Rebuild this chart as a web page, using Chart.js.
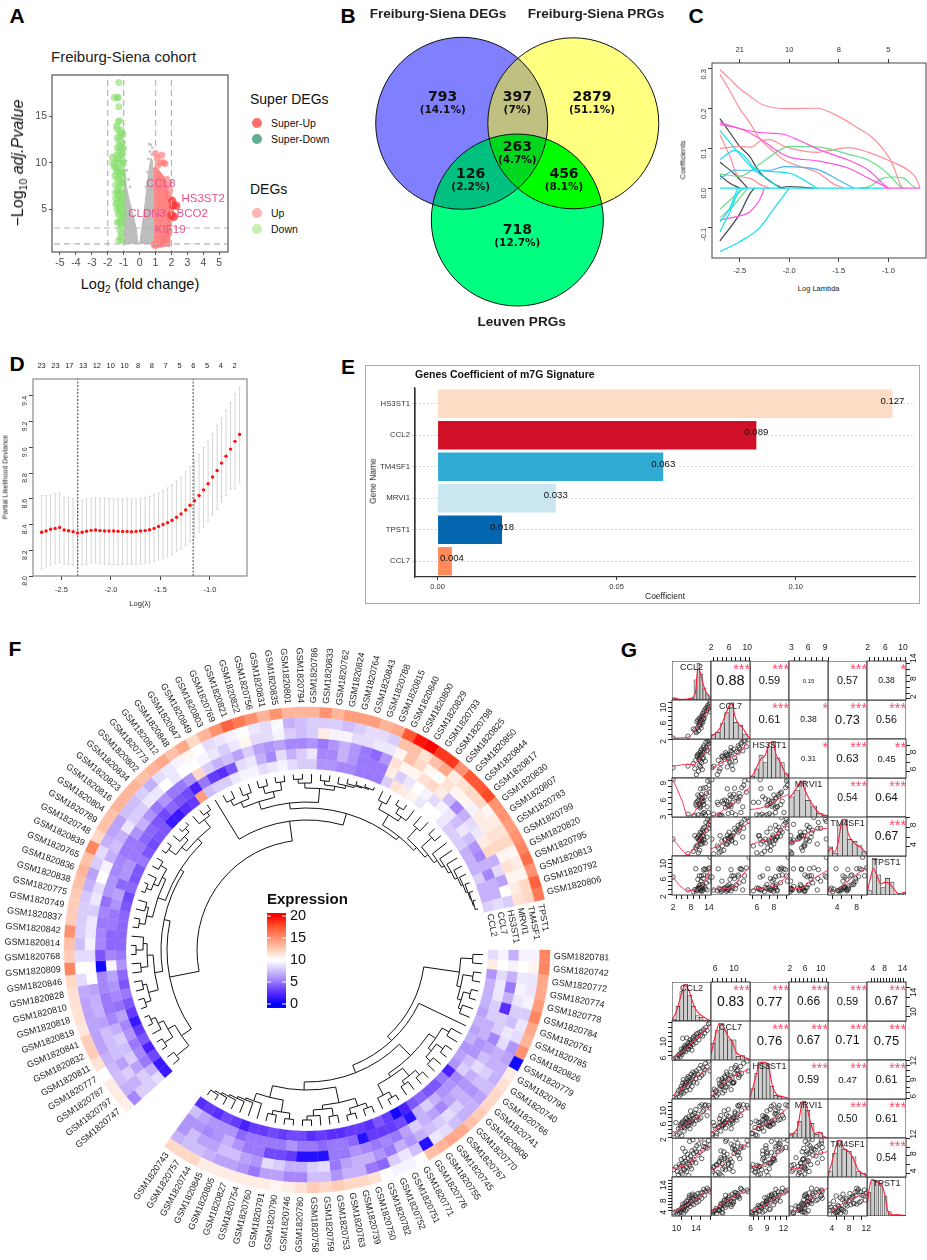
<!DOCTYPE html>
<html>
<head>
<meta charset="utf-8">
<script src="https://cdn.jsdelivr.net/npm/chart.js@4/dist/chart.umd.min.js"></script>
<style>
html, body { margin: 0; padding: 0; background: #fff; }
#page { position: relative; width: 927px; height: 1260px; overflow: hidden; font-family: "Liberation Sans", Arial, sans-serif; color: #111; }
canvas { position: absolute; display: block; }
.t { position: absolute; white-space: nowrap; transform: translate(-50%, -50%); line-height: 1; }
.l { position: absolute; white-space: nowrap; transform: translate(0, -50%); line-height: 1; }
.dot { position: absolute; border-radius: 50%; width: 10px; height: 10px; transform: translate(-50%, -50%); }
#frameE { position: absolute; left: 365px; top: 365px; width: 555px; height: 239px; border: 1.5px solid #aaa; box-sizing: border-box; }
</style>
</head>
<body>
<div id="page"><div id="frameE"></div></div>
<script>
// ---- A: volcano
var greyLeftX = [-1, -0.9, -0.8, -0.65, -0.5, -0.35, -0.2, -0.1];
var greyLeftY = [9.5, 8.5, 7.2, 6, 5, 4, 2.8, 1.3];
var greyRightX = [0, 0.1, 0.2, 0.3, 0.4, 0.5, 0.6, 0.72, 0.85];
var greyRightY = [1.3, 2.5, 3.8, 5, 6.5, 8, 9.4, 10.5, 10];
var redAreaX = [0.85, 1, 1.2, 1.4, 1.6, 1.75, 1.85, 1.95];
var redAreaY = [9.4, 9.5, 9.2, 8.8, 8.2, 7, 5.4, 3];
var greyDots = [[0.6,12],[0.7,11.9],[0.8,11.6],[0.65,11.2],[0.75,10.9],[0.55,10.4],[-0.95,13.2],[-0.9,11.5],[-0.85,10.2],[-0.8,9.2],[-0.7,8.2],[-0.6,7.4],[-0.95,12.2],[0.4,7.4],[0.5,9]];
var greenDots = [[-1.3,18.6],[-1.6,17],[-1.4,17],[-1.35,17],[-1.3,16],[-1.25,14.5],[-1.35,14.4],[-1.4,13.6],[-1.15,13.5],[-1.25,13.2],[-1.2,12.8],[-1.3,12.3],[-1.1,12.2],[-1.25,11.8],[-1.15,11.5],[-1.3,11.2],[-1.05,11],[-1.2,10.8],[-1.7,10.6],[-1.35,10.4],[-1.1,10.4],[-1.25,10],[-1.7,10],[-1.05,9.8],[-1.6,9.6],[-1.35,9.4],[-1.15,9.2],[-1.45,9],[-1.25,8.8],[-1.05,8.5],[-1.4,8.2],[-1.2,8],[-1.05,7.8],[-1.3,7.5],[-1.4,7],[-1.15,7],[-1.35,6.5],[-1.1,6.2],[-1.3,6],[-1.4,5.6],[-1.15,5.6],[-1.3,5.2],[-1.05,5],[-1.25,4.7],[-1.1,4.4],[-1.3,3.7],[-1.4,3.6],[-1.1,3.2],[-1.25,2.8],[-1.15,2.4],[-1.2,2],[-1.3,1.7],[-1.1,1.6],[-1.45,13.9],[-1.05,13],[-1.4,12.7],[-1.4,11.6],[-1.02,11.6],[-1.45,10.8],[-1.5,10.2],[-1.02,10],[-1.5,9.5],[-1.3,9],[-1.05,9],[-1.55,8.6],[-1.3,8.4],[-1.5,7.6],[-1.15,7.7],[-1.5,6.8],[-1.25,6.8],[-1.03,6.7],[-1.5,6.2],[-1.22,6.2],[-1.5,5.6],[-1.05,5.8],[-1.4,5],[-1.2,5.2],[-1.35,4.5],[-1.03,4.5],[-1.2,3.9],[-1.02,3.9],[-1.2,3.4]];
var pinkDots = [[1,11],[1.1,10.5],[1.4,10.8],[1.3,10],[1.5,10],[1.6,9.9],[1.15,9.7],[1.7,8.2],[1.8,7.6],[1.9,7],[1.75,6.6],[1.9,6.2],[1.95,5],[1.9,4],[1.8,3],[1.7,2.2],[1.5,1.6],[1.3,1.2],[1,1.1],[0.9,1.2],[1.6,1.8],[1.85,2.6]];
var superUpDots = [[2.05,5.9],[2.1,5.4],[2.3,5.4],[2,4.4],[2.15,4.2]];
var volcanoNames = ['CCL8', 'HS3ST2', 'CLDN3', 'BCO2', 'KIF19'];
var volcanoNameX = [1.33, 3.99, 0.47, 3.3, 1.92];
var volcanoNameY = [7.71, 6.14, 4.55, 4.55, 2.83];

// ---- B: venn
var vennCounts = ['793', '397', '2879', '263', '126', '456', '718'];
var vennShares = ['(14.1%)', '(7%)', '(51.1%)', '(4.7%)', '(2.2%)', '(8.1%)', '(12.7%)'];

// ---- C: coefficient paths
var pathPink = [
  [[-2.7,0.298],[-2.6,0.275],[-2.5,0.25],[-2.4,0.232],[-2.27,0.21],[-2,0.2],[-1.72,0.201],[-1.5,0.18],[-1.3,0.15],[-1.15,0.125],[-1,0.08],[-0.95,0.055],[-0.87,0.005],[-0.85,0]],
  [[-2.7,0.287],[-2.6,0.245],[-2.5,0.2],[-2.4,0.165],[-2.3,0.125],[-2.15,0.09],[-2.05,0.07],[-1.9,0.055],[-1.72,0.04],[-1.55,0.01],[-1.45,0]],
  [[-2.7,0.1],[-2.5,0.105],[-2.38,0.103],[-2.3,0.118],[-2.2,0.122],[-2.05,0.105],[-1.9,0.095],[-1.72,0.09],[-1.6,0.095],[-1.4,0.102],[-1.2,0.09],[-1,0.07],[-0.8,0.045],[-0.72,0.025],[-0.68,0]],
  [[-2.7,0.135],[-2.6,0.08],[-2.52,0.032],[-2.4,0.025],[-2.3,0.01],[-2.2,0]]
];
var pathMagenta = [
  [[-2.7,0.165],[-2.5,0.15],[-2.3,0.14],[-2.05,0.135],[-1.9,0.12],[-1.7,0.097],[-1.4,0.07],[-1.2,0.045],[-1.05,0.01],[-1,0]],
  [[-2.7,0.16],[-2.5,0.15],[-2.3,0.125],[-2.1,0.09],[-2,0.078],[-1.7,0.068],[-1.4,0.05],[-1.2,0.025],[-1,0]],
  [[-2.7,-0.08],[-2.5,-0.07],[-2.4,-0.06],[-2.3,-0.03],[-2.25,0]]
];
var pathGreen = [
  [[-2.7,0.035],[-2.5,0.03],[-2.3,0.06],[-2.1,0.095],[-2,0.105],[-1.7,0.103],[-1.4,0.085],[-1.2,0.07],[-1,0.035],[-0.9,0.008],[-0.87,0]],
  [[-1.3,0],[-1.2,0.003],[-1.05,0.025],[-0.95,0.028],[-0.85,0.025],[-0.75,0.005],[-0.72,0]],
  [[-2.7,-0.053],[-2.55,-0.02],[-2.45,0]],
  [[-2.7,-0.075],[-2.55,-0.04],[-2.42,0]]
];
var pathBlue = [
  [[-2.7,0.023],[-2.55,0.045],[-2.4,0.045],[-2.2,0.045],[-2.05,0.054],[-1.72,0.047],[-1.5,0.02],[-1.35,0]]
];
var pathCyan = [
  [[-2.7,0.072],[-2.55,0.095],[-2.45,0.08],[-2.35,0.05],[-2.2,0.042],[-2,0.038],[-1.85,0.02],[-1.72,0]],
  [[-2.7,0.145],[-2.6,0.115],[-2.5,0.085],[-2.35,0.045],[-2.2,0.02],[-2.1,0]],
  [[-2.7,-0.16],[-2.5,-0.135],[-2.3,-0.1],[-2.15,-0.05],[-2,0]],
  [[-2.7,-0.11],[-2.6,-0.06],[-2.5,-0.005],[-2.45,0]],
  [[-2.7,-0.085],[-2.6,-0.05],[-2.52,0]],
  [[-2.7,0],[-1.05,0]]
];
var pathBlack = [
  [[-2.7,0.175],[-2.6,0.14],[-2.5,0.105],[-2.4,0.08],[-2.3,0.04],[-2.1,0.003],[-2.05,0]],
  [[-2.7,0.065],[-2.55,0.035],[-2.42,0]],
  [[-2.7,0.032],[-2.6,0.012],[-2.5,0]],
  [[-2.7,-0.133],[-2.5,-0.065],[-2.4,-0.015],[-2.35,0]],
  [[-2.1,0],[-2,0.004],[-1.85,0.002],[-1.75,0]]
];
var pathEnd = [[-1.05,0],[-0.68,0]];
var coefTopX = [-2.5, -2, -1.5, -1];
var coefTopLabels = ['21', '10', '8', '5'];

// ---- D: cross validation
var cvLambda = [-2.7,-2.655,-2.609,-2.564,-2.518,-2.473,-2.428,-2.382,-2.337,-2.291,-2.246,-2.2,-2.155,-2.11,-2.064,-2.019,-1.973,-1.928,-1.882,-1.837,-1.792,-1.746,-1.701,-1.655,-1.61,-1.564,-1.519,-1.474,-1.428,-1.383,-1.337,-1.292,-1.246,-1.201,-1.156,-1.11,-1.065,-1.019,-0.974,-0.928,-0.883,-0.838,-0.792,-0.747,-0.701];
var cvMean = [8.34,8.35,8.363,8.37,8.378,8.358,8.352,8.345,8.335,8.34,8.348,8.355,8.358,8.353,8.35,8.35,8.35,8.348,8.347,8.347,8.345,8.347,8.35,8.353,8.36,8.37,8.385,8.4,8.415,8.433,8.457,8.483,8.514,8.55,8.585,8.626,8.67,8.717,8.77,8.82,8.878,8.932,8.987,9.047,9.1];
var cvUpper = [8.625,8.625,8.63,8.64,8.645,8.615,8.61,8.6,8.585,8.59,8.6,8.605,8.61,8.605,8.605,8.603,8.6,8.6,8.6,8.6,8.6,8.6,8.605,8.61,8.62,8.635,8.645,8.665,8.685,8.71,8.74,8.77,8.81,8.85,8.895,8.945,9,9.05,9.105,9.17,9.23,9.29,9.35,9.415,9.47];
var cvLower = [8.055,8.07,8.085,8.095,8.105,8.09,8.09,8.085,8.08,8.085,8.09,8.1,8.1,8.095,8.09,8.09,8.09,8.09,8.09,8.09,8.09,8.09,8.095,8.1,8.105,8.115,8.125,8.135,8.15,8.165,8.19,8.21,8.235,8.265,8.3,8.34,8.38,8.425,8.475,8.52,8.575,8.625,8.675,8.68,8.725];
var cvCutoffs = [-2.335, -1.17];
var cvTopX = [-2.7,-2.561,-2.42,-2.281,-2.142,-2.003,-1.864,-1.725,-1.586,-1.447,-1.308,-1.169,-1.03,-0.891,-0.752];
var cvTopLabels = ['23','23','17','13','12','10','10','8','8','7','5','6','5','4','2'];

// ---- E: signature bars
var sigGenes = ['HS3ST1', 'CCL2', 'TM4SF1', 'MRVI1', 'TPST1', 'CCL7'];
var sigCoef = [0.127, 0.089, 0.063, 0.033, 0.018, 0.004];
var sigColors = ['#fddcc5', '#cf1027', '#2eaad3', '#c9e6f1', '#0566b0', '#fc8a5a'];

// ---- F: circular heatmap
var sector1Ids = [747,797,787,777,811,832,841,819,818,810,828,846,809,768,814,842,837,749,775,838,836,765,839,748,789,804,816,823,834,802,773,812,848,847,849,803,769,821,822,756,831,835,801,794,786,833,762,824,764,843,788,815,840,800,829,793,798,825,850,844,817,830,807,783,799,820,795,813,792,806];
var sector2Ids = [781,742,772,774,778,784,761,785,826,779,796,740,766,741,808,770,767,745,755,776,771,751,752,782,750,739,763,753,759,758,780,746,790,791,760,754,827,805,845,744,757,743];
var heatGenes = ['TPST1', 'TM4SF1', 'MRVI1', 'HS3ST1', 'CCL7', 'CCL2'];
var tpst1S1 = [10.8,11,11,10,11.5,12.5,12.5,11.3,11.5,11.5,11.5,12,15.5,12.5,13,15,12.5,12.5,12.5,13,13.5,13,15.5,12,13,13,13.5,13.5,13.5,13,13.5,14,13,14,12,13.5,15,17,16,15,13.5,15,13.5,13.5,13.5,15,13.5,14.5,14.5,14.5,13.5,14,17.5,19.5,20,18.5,18.5,15,17.5,17.5,18,15,15,14.5,15,15.5,16.5,15,17,16];
var tm4sf1S1 = [5.5,7,7.5,7.3,7,6.5,6.5,6.5,6.5,6.5,6.8,8.5,10,8.5,7.5,8,8,8,7.8,7,6.5,8,8.5,7,6.5,6.5,7.5,7.5,8,7,8.5,9,9.5,10.5,10,8.5,9,9.5,10,9,8.5,9.8,7,7.5,8,8,8,7.5,8,8.5,8.5,8,13,13,11.5,13,14,11,11.5,12,12,10.5,11,11.5,12,10.5,11,10.5,12,12];
var mrvi1S1 = [8,7,8,6.5,7.5,7.5,7.5,6.5,7,7,6.5,10,10.2,8.5,9.5,9,9,8,9,8.5,10,9.5,7,7.5,7,9,8,8,9,9,10,9,10,10,9.5,9,8,9,10.5,8.5,8.5,9.5,8,7.5,8,11,9.5,9.5,8.5,8.5,9,9,10.5,13,12,10.5,10,11.5,10.5,10.5,9.5,11,11,11.5,12,10.5,11.5,10.5,11,11.5];
var hs3st1S1 = [8,8,6.5,8,7.5,8,7,5.5,5,5,5.5,5.5,0.5,4,5.5,5.5,5,5.5,4.8,6,6,5.5,5.5,5,5,6,7,6,5,6,5,5,6,12,8,7,7.5,6.5,8,6.5,6,6.5,5.5,5.5,6,5,6,7,6,5,4.5,6,11.5,10.5,10.5,11.5,12,11,7.5,5.5,7,8.5,9,11,12,7,8.5,6.5,10,8];
var ccl7S1 = [8.5,7,5,5.5,5,6,5.5,6.5,4.8,5.5,6,6.5,9.5,5.5,4.5,4.5,5,5,6,6.5,4.5,6,6,5,5,4.5,4.5,4,3.5,4.5,4,3.5,2,5,3,2.5,4,8.5,9,7,5.5,8.5,7,8,9,5.5,5.5,7,6,5,5,5,11,8,9,10,9.5,8.5,9.5,9,7.5,9,7.5,6,5.5,7,5.5,7,7,8.5];
var ccl2S1 = [1.5,1.5,3.5,2,4,3,1.5,3,4,5,4,4.5,6,5,4.5,4.5,4.5,4.5,4,3.5,4.5,4,4,5,4,3.5,4,4,1.5,1.5,2.5,3,14.5,7.5,8,8,9,9.5,9.5,8.5,9,9.5,8.5,8,8,6,6,5.5,5.5,5,5,5,8,11.5,11,10.5,9,10,10,9,8,8,8,7,7,7,8,7,7,8];
var tpst1S2 = [15.5,15.5,14,14,14.5,15.5,14,13.5,15,0.5,11,11.5,12,12,12.5,13,14,14,13.5,13,10,9.5,9.5,10,11.5,12,12,12.5,12,12.5,11.5,11,10.5,11,11,11,11,11,11,12,12,12];
var tm4sf1S2 = [9.5,10.5,9,9,9.5,8,9,8.5,6,6.5,7,7,7.5,6.5,7,7,7.5,8.5,9,1,7.5,9,8,4.5,5,7,7,6,7.5,7.5,5.5,5.5,6.5,6.5,5,6,6.5,6.5,7,7.5,7.5,7];
var mrvi1S2 = [9.5,10,9,9.5,9,8,7.5,9,8.5,7,7,8,7.5,6,7,8,8.5,8,7.5,7,6,7,5,6,7,7,6.5,5,8.5,8,7,7,8,8.5,6,6.5,7.5,7.5,6.5,6.5,7.5,6];
var hs3st1S2 = [7,9.5,7,5,7,2.5,8,8,5.5,6.5,7.5,8.5,7,6,7,6.5,5.5,6.5,7,8,6.5,5,5.5,5,5.5,6,5,5,1,1,1,3,3.5,3.5,5,5,6,7,6,5.5,6,6];
var ccl7S2 = [9.5,10,8.5,9,9,8,8,7,7,6,6,7.5,8,5.5,6,6,7,8,7,1,3.5,3,3,3,1,4.5,5,5,4.5,5,5,6,5,5,5,5,4.5,6,6,6,6.5,7.5];
var ccl2S2 = [8.5,11,6,7,7,7,6.5,7,6.5,7,6,6.5,6,2,5,4,4,4.5,4,2,0.5,3,4,2.5,3,3,2.5,2.5,3,2.5,3.5,3.5,3,3.5,3,3,2,3,3.5,2.5,3,2.5];
// dendrograms: [height, child, child...], a child is a leaf index or a nested node
var treeS1 = [66,
  [36,
    [24,[8,0,1],[16,[6,2,3],[10,4,[5,5,6]]]],
    [30,
      [22,[12,[6,7,8],[8,9,10]],[16,[9,11,12],[12,[5,13,14],15]]],
      [26,
        [18,[12,[6,16,17],[9,18,19]],[14,[9,[4,20,21],22],[7,23,24]]],
        [20,[14,[5,25,26],[9,27,[4,28,29]]],[10,30,[6,31,32]]]
      ]
    ]
  ],
  [46,33,
    [34,
      [28,[20,[14,[8,34,35],[9,36,37]],[14,[7,38,39],[6,40,41]]],[14,[9,[5,42,43],44],[10,[6,45,46],[7,47,[5,48,[4,49,[3,50,51]]]]]]],
      [30,[18,[10,52,53],[13,[6,54,55],56]],[26,[12,57,58],[22,[8,59,60],[18,61,[15,62,[12,63,[9,64,[7,65,[5,66,[4,67,[3,68,69]]]]]]]]]]]
    ]
  ]
];
var treeS2 = [58,
  [22,[10,0,1],[18,[8,2,3],[14,[7,4,5],[11,6,7]]]],
  [52,8,
    [44,
      [28,[20,[12,9,10],[16,[8,11,12],[10,13,14]]],[24,[14,[8,15,16],[10,17,18]],[12,[6,19,20],21]]],
      [36,
        [20,[12,[7,22,23],[6,24,25]],[16,[8,26,27],[10,28,[6,29,30]]]],
        [24,[12,[6,31,32],[8,33,34]],[16,35,[14,36,[12,37,[10,38,[8,39,[6,40,41]]]]]]]
      ]
    ]
  ]
];
var legendValues = [20, 15, 10, 5, 0];

// ---- G: pairs plots
var pairGenes = ['CCL2', 'CCL7', 'HS3ST1', 'MRVI1', 'TM4SF1', 'TPST1'];
var upCCL2 = [2,7,8.8,9.3,9.6,9.8,10,10.2,10.3,10.5,10.6,10.7,10.8,10.9,11,11.1,11.2,11.3,11.4,11.5,11.6,11.7,11.8,11.9,12,12.1,12.2,12.3,12.4,12.6,12.8,13,13.2,13.4,13.6,13.8,14,14.2,14.4,14.5];
var upCCL7 = [2.2,2.6,4.2,4,3.6,3.4,5.8,4.5,6.2,3.8,5,5.6,6.6,4.8,5.2,6,5.6,6.4,4.4,7,6.2,5.4,6.8,7.6,5.8,7.2,6.4,8,6.6,8.4,7.4,8.8,8.2,9,9.4,8.6,9.2,9.8,10.4,8];
var upHS3ST1 = [6.4,6.6,6.9,6.3,7.3,5.6,7.8,7.7,8,6,7.4,7.9,6.7,7.6,8.2,7.2,6.5,8.4,7.8,8.6,7,8,6.2,8.3,7.5,7.6,8.8,9,8.2,8.6,7.2,9.4,8.8,8.4,9.5,9.2,9.6,8.9,9.7,8.2];
var upMRVI1 = [9.2,3.1,2.8,2.9,4.8,5.2,4.5,5.4,6.5,3,5.6,4.8,6.2,5,4.2,4.6,7.6,4.4,2.9,6.6,5.8,5.4,5.2,6,3.2,7.7,4.8,5.4,3.4,6.2,3,7.8,6.8,4.4,9,3.4,8.2,7,9.2,5.8];
var upTM4SF1 = [5.6,2.6,3.1,6.3,3.8,4.2,5.8,4.2,6,2.8,5.4,6.4,5.2,3.3,5.6,7,4.6,6,5.2,6.8,5.6,4.6,6.3,7.4,5,7.8,6.2,7,5.4,8,4.8,9,7.4,6,9.6,8.6,7.8,10,9.2,8.4];
var upTPST1 = [5.9,3,2.6,3.1,7.8,2.8,3.2,2.9,5.4,3.4,3.5,3.9,6.2,3.2,3.4,4.2,3,2.8,5,6.2,3.6,2.7,3.4,4.2,3,5.6,7.6,6.4,3.8,7.8,3.3,7.6,4.6,3,6.2,7.8,5,8,10.4,6];
var upRanges = [[1.66,14.7],[2,10.6],[5.2,9.8],[2.6,9.5],[2.15,10.1],[1.85,10.7]];
var upTicks = [[2,4,6,8,10,12,14],[2,3,4,5,6,7,8,9,10],[6,7,8,9],[3,4,5,6,7,8,9],[4,6,8,10],[2,3,4,5,6,7,8,9,10]];
var upTickLabels = [[2,8,14],[2,6,10],[6,8],[3,6,9],[4,8],[2,6,10]];
var upCorr = ['0.88','0.59','0.15','0.57','0.38','0.61','0.38','0.73','0.56','0.31','0.63','0.45','0.54','0.64','0.67'];
var upStars = ['***','***','','***','*','***','*','***','***','*','***','**','***','***','***'];
var upHistX = [
  [2.5,3.5,4.5,5.5,6.5,7.5,8.5,9.5,10.5,11.5,12.5,13.5,14.5],
  [2.5,3.5,4.5,5.5,6.5,7.5,8.5,9.5,10.5],
  [5.5,6,6.5,7,7.5,8,8.5,9,9.5],
  [3,4,5,6,7,8,9],
  [2.6,3.6,4.6,5.6,6.6,7.6,8.6,9.6],
  [2.5,3.5,4.5,5.5,6.5,7.5,8.5,9.5,10.5]
];
var upHistY = [
  [0.04,0.02,0,0,0,0.04,0.05,0.55,1,0.7,0.33,0.15,0.05],
  [0.13,0.18,0.42,0.72,0.98,0.45,0.38,0.13,0.02],
  [0.05,0.25,0.62,0.42,0.85,1,0.55,0.42,0.12],
  [0.55,0.72,0.98,0.45,0.3,0.1,0.05],
  [0.25,0.08,0.85,1,0.45,0.4,0.3,0.12],
  [0.12,1,0.55,0.2,0.45,0.35,0.03,0.03,0.08]
];
var upDensity = [
  [[1.7,0.05],[2.5,0.06],[4,0.02],[6,0.02],[8,0.05],[9.5,0.2],[10.3,0.85],[11,0.78],[12,0.45],[13,0.22],[14,0.12],[14.7,0.06]],
  [[2,0.06],[3,0.16],[4,0.3],[5,0.6],[6,0.9],[6.6,0.98],[7.3,0.6],[8,0.42],[9,0.3],[10,0.1],[10.6,0.03]],
  [[5.2,0.02],[5.6,0.1],[6,0.3],[6.5,0.52],[7,0.62],[7.5,0.95],[7.9,0.98],[8.3,0.62],[8.8,0.42],[9.3,0.15],[9.8,0.02]],
  [[2.6,0.5],[3,0.58],[4,0.8],[4.7,0.98],[5.5,0.7],[6.3,0.45],[7,0.28],[8,0.1],[9,0.05],[9.5,0.02]],
  [[2.2,0.1],[2.8,0.22],[3.4,0.1],[4.2,0.35],[4.9,0.9],[5.6,1],[6.3,0.6],[7,0.42],[8,0.3],[9,0.22],[10,0.05]],
  [[1.9,0.05],[2.5,0.4],[3.3,0.72],[4,0.55],[5,0.3],[6,0.35],[7,0.3],[8,0.15],[9,0.04],[10,0.05],[10.7,0.06]]
];
var upLoess = [
  [[2,2.2],[7,2.4],[9,3.6],[10,4.6],[12,6.5],[14.5,9.6]],
  [[2,6.6],[7,6.8],[9,6.8],[10,7.1],[12,7.9],[14.5,9.3]],
  [[2,6.3],[4,6.9],[6,7.4],[8,8.1],[10,9.3]],
  [[2,9.2],[5,5.5],[7,2.8],[9,3.3],[11,5.3],[14.5,7.6]],
  [[2,2.7],[4,3.4],[6,4.6],[8,5.6],[10.4,7.8]],
  [[5.2,3.9],[6.5,4.2],[7.5,4.8],[8.5,5.8],[9.8,6.6]],
  [[2,5.6],[5,3.4],[7,2.4],[9,3.6],[11,5.6],[13,7.4],[14.5,9.6]],
  [[2,3.6],[4,4.4],[6,5.6],[8,7.4],[10.4,9]],
  [[5.2,4.4],[6.5,5.2],[7.5,5.6],[8.5,6.8],[9.8,9]],
  [[2.6,4.8],[4,5.2],[5,5.8],[6,6.8],[7,7.4],[9.4,7.8]],
  [[2,5.9],[5,3.5],[7,2.9],[9,3],[11,3.4],[13,5.4],[14.5,8]],
  [[2,3.1],[4,3.2],[6,3.4],[7,3.6],[8,5.2],[10.4,8.2]],
  [[5.2,3],[6.5,3.4],[7.5,3.6],[8.5,4.2],[9.8,6.8]],
  [[2.6,3.2],[4,3.3],[5,3.4],[6,4.6],[7.5,6],[9.4,7.4]],
  [[2.2,3],[3.5,2.6],[5,3.8],[6.5,5.2],[8,6.6],[10,8]]
];
var lowCCL2 = [9.4,9.9,10.2,10.4,10.6,10.8,10.9,11,11.1,11.2,11.3,11.4,11.5,11.6,11.7,11.8,11.9,12,12.1,12.2,12.3,12.4,12.5,12.6,12.7,12.8,12.9,13,13.1,13.2,13.3,13.4,13.5,13.6,13.8,14,14.1,14.2,14.4,14.6,14.8,15,15.2,15.4,15.6,15.8,16,16.3,16.6,16.9];
var lowCCL7 = [5.3,5.6,5.4,6.1,6.3,5.8,6.6,7.4,6.2,7,9.7,6.8,7.6,7.2,8.2,7.8,6.9,8,9.8,7.5,8.5,8,7.4,8.8,8.2,9.4,7.9,8.6,9,7.2,9.6,8.4,10,9.2,10.2,8.8,10.6,9.9,10.8,9.4,11,10.4,11.2,10.2,11.6,10.8,12,11.4,12.8,13];
var lowHS3ST1 = [6.2,6,6.9,7.4,6.4,7.7,6.8,8.2,7.2,7.8,8.8,9.4,7,8.4,8,9,8.6,7.4,8.9,9.6,8.2,10,9.2,8.6,9.8,7.6,9,10.4,9.4,8.2,9.9,10.8,9,10.2,10.6,9.6,11,8.8,10.4,11.4,9.8,12,10.2,11.6,10.6,11.2,12.4,11.8,12.8,11];
var lowMRVI1 = [2.9,5.8,2.6,4.2,3,5,4.5,5.4,2.4,5.9,5.6,4.8,6.2,3.6,4.4,5.2,6.8,5.8,7,4.9,6.4,5.6,5,7.4,6,4.2,8.8,6.5,5.8,7.6,6.2,7.8,6.9,5.4,8.2,9.2,6.4,7.2,8,6.6,10,7,10.4,8.6,9,10.2,10.4,7.6,10.2,9.6];
var lowTM4SF1 = [4.8,5.4,4.4,3.6,6,5.5,4.2,7.2,5.8,3.8,9.8,6.4,5,7.6,4.8,9,6.8,5.4,4.4,6.2,8.4,7.4,3.4,6,11.4,5.6,8,7,5,9.2,6.6,11.8,8.6,7.2,9.6,6.4,9,10.4,8.2,10.8,8.8,12,7.4,9.4,10.2,11,10,9.8,11.6,10.6];
var lowTPST1 = [3.2,3.4,2.6,3.9,2.9,3.6,4.1,3.3,4.6,5,6,4.2,3,5.4,4.9,6.4,3.8,5.6,7,4.4,5.8,7.4,6,8.2,9,5.2,7.2,6.8,8.8,6.2,9.4,7.4,8,5.8,9,7.6,8.4,6.6,9.6,7,8.6,9.8,8,10,11,9,10.4,11.4,10.8,10.2];
var lowRanges = [[9.1,17.1],[5.1,13.4],[5.9,13],[1.8,11.9],[3.1,12.2],[2,15.2]];
var lowTicks = [[10,12,14,16],[6,7,8,9,10,11,12,13],[6,7,8,9,10,11,12,13],[2,3,4,5,6,7,8,9,10,11],[4,6,8,10,12],[4,5,6,7,8,9,10,11,12,13,14]];
var lowTickLabels = [[10,14],[6,10],[6,9,12],[2,6,10],[4,8,12],[4,8,14]];
var lowCorr = ['0.83','0.77','0.66','0.59','0.67','0.76','0.67','0.71','0.75','0.59','0.47','0.61','0.50','0.61','0.54'];
var lowStars = ['***','***','***','***','***','***','***','***','***','***','***','***','***','***','***'];
var lowHistX = [
  [9.5,10.3,11.1,11.9,12.7,13.5,14.3,15.1,15.9],
  [5.5,6.4,7.3,8.2,9.1,10,10.9,11.8,12.7],
  [6.4,7.1,7.8,8.5,9.2,9.9,10.6,11.3,12],
  [2.3,3.4,4.5,5.6,6.7,7.8,8.9,10,11.1],
  [3.6,4.7,5.8,6.9,8,9.1,10.2,11.3],
  [2.7,4.1,5.5,6.9,8.3,9.7,11.1,12.5,13.9]
];
var lowHistY = [
  [0.05,0.4,0.8,1,0.7,0.4,0.15,0.1,0.02],
  [0.45,0.8,1,0.8,0.55,0.55,0.1,0.12,0.03],
  [0.3,0.7,1,1,0.95,0.35,0.1,0.07,0.03],
  [0.12,0.12,0.45,1,0.75,0.4,0.1,0.15,0.02],
  [0.15,0.65,1,0.75,0.7,0.55,0.15,0.1],
  [0.65,0.98,0.95,0.9,0.55,0.12,0.02,0.03,0.02]
];
var lowDensity = [
  [[9.1,0.03],[10,0.25],[11,0.72],[11.8,1],[12.6,0.82],[13.5,0.45],[14.5,0.22],[15.5,0.12],[16.3,0.05],[17.1,0.01]],
  [[5.1,0.15],[6,0.65],[6.9,1],[7.8,0.9],[8.7,0.65],[9.6,0.5],[10.5,0.2],[11.5,0.12],[12.5,0.06],[13.4,0.01]],
  [[5.9,0.05],[6.5,0.35],[7.2,0.75],[7.9,1],[8.6,1],[9.3,0.85],[10,0.35],[10.8,0.12],[11.8,0.07],[13,0.01]],
  [[1.8,0.05],[3,0.14],[4,0.28],[5,0.85],[5.6,1],[6.5,0.8],[7.5,0.38],[8.5,0.12],[9.7,0.16],[10.8,0.04],[11.9,0]],
  [[3.1,0.03],[4,0.4],[5,0.85],[5.8,1],[6.8,0.78],[8,0.68],[9,0.5],[10.2,0.18],[11.2,0.1],[12.2,0.03]],
  [[2,0.25],[3,0.85],[3.8,1],[5,0.93],[6.5,0.88],[8,0.6],[9,0.15],[10.5,0.03],[12.5,0.03],[14.5,0.02],[15.2,0]]
];
var lowLoess = [
  [[9.3,5.4],[11,6.7],[12.5,8],[14,9.6],[15.5,11],[17,12.6]],
  [[9.3,6.5],[11,7.6],[12.5,8.8],[14,9.9],[15.5,10.8],[17,11.8]],
  [[5.2,6.3],[6.5,7.8],[8,8.9],[9.5,9.8],[11,10.6],[13,11.2]],
  [[9.3,2.8],[11,4.6],[12.5,5.8],[14,6.9],[15.5,8.3],[17,10]],
  [[5.2,2.9],[6.5,4.6],[8,5.5],[9.5,6.5],[11,8],[13,9.6]],
  [[6,3.6],[7.5,4.8],[9,5.6],[10.5,7],[12.8,9.6]],
  [[9.3,5],[11,5.5],[12.5,6],[14,7.8],[15.5,9.4],[17,10.4]],
  [[5.2,4.9],[6.5,5.4],[8,6.3],[9.5,8],[11,9.6],[13,11]],
  [[6,5.4],[7.5,5.6],[9,6.3],[10.5,8.2],[12,9.6],[13,9.4]],
  [[2,5],[4,5],[6,6],[7.5,7.4],[9,8.4],[11.8,9]],
  [[9.3,3.4],[11,4.8],[12.5,6],[14,7.8],[15.5,9.4],[17,11]],
  [[5.2,3.6],[6.5,5],[8,6.8],[9.5,8],[11,9.4],[13,10.6]],
  [[6,3.6],[7.5,4.8],[9,6],[10.5,8],[12,9.6],[13,10.6]],
  [[2,3.4],[4,4],[6,6.4],[7.5,8],[9,9.6],[11.8,11.4]],
  [[3.2,3],[5,4.8],[7,6.6],[9,8.2],[10.5,8.8],[12.2,9.2]]
];

// ---- page helpers
Chart.defaults.animation = false;
Chart.defaults.responsive = false;
Chart.defaults.maintainAspectRatio = false;
Chart.defaults.layout.autoPadding = false;
Chart.defaults.font.family = '"Liberation Sans", Arial, sans-serif';
Chart.defaults.plugins.legend.display = false;
Chart.defaults.plugins.tooltip.enabled = false;

var page = document.getElementById('page');

function text(str, x, y, css, cls) {
    var d = document.createElement('div');
    d.className = cls || 't';
    d.innerHTML = str;
    d.style.left = x + 'px';
    d.style.top = y + 'px';
    d.style.cssText += css || '';
    page.appendChild(d);
    return d;
}

function makeChart(left, top, width, height, config) {
    var c = document.createElement('canvas');
    c.width = width;
    c.height = height;
    c.style.left = left + 'px';
    c.style.top = top + 'px';
    c.style.width = width + 'px';
    c.style.height = height + 'px';
    page.appendChild(c);
    return new Chart(c, config);
}

// fixed axis thickness, no extra room for the labels at the ends
function fit(size) {
    return function (s) {
        if (s.isHorizontal()) s.height = size; else s.width = size;
        s.paddingLeft = s.paddingRight = s.paddingTop = s.paddingBottom = 0;
    };
}

function frame(color, width) {
    return {
        id: 'frame',
        afterDatasetsDraw: function (chart) {
            var a = chart.chartArea, ctx = chart.ctx;
            ctx.save();
            ctx.strokeStyle = color;
            ctx.lineWidth = width;
            ctx.strokeRect(a.left, a.top, a.right - a.left, a.bottom - a.top);
            ctx.restore();
        }
    };
}

function pairsOf(xs, ys) {
    return xs.map(function (x, i) { return { x: x, y: ys[i] }; });
}
function toPoints(list) {
    return list.map(function (p) { return { x: p[0], y: p[1] }; });
}

// panel letters
[['A',17,15],['B',348,15],['C',696,15],['D',17,363],['E',348,366],['F',15,648],['G',629,649]].forEach(function (p) {
    text(p[0], p[1], p[2], 'font-weight:bold;font-size:21px;color:#000;');
});

// ---- A
function dashLine(x1, y1, x2, y2) {
    return { type: 'scatter', showLine: true, data: [{ x: x1, y: y1 }, { x: x2, y: y2 }], borderColor: '#b4b4b4', borderWidth: 1.2, borderDash: [6, 4], pointRadius: 0 };
}
// first dataset is painted last
makeChart(20, 65, 220, 205, {
    type: 'scatter',
    data: {
        datasets: [
            dashLine(-2, 0, -2, 20), dashLine(-1, 0, -1, 20), dashLine(1, 0, 1, 20), dashLine(2, 0, 2, 20),
            dashLine(-6, 3, 6, 3), dashLine(-6, 1.3, 6, 1.3),
            { data: toPoints(superUpDots), pointRadius: 4.2, backgroundColor: 'rgba(255,50,50,0.75)', borderWidth: 0 },
            { data: toPoints(greenDots), pointRadius: 3.5, backgroundColor: 'rgba(135,222,110,0.62)', borderWidth: 0 },
            { data: toPoints(pinkDots), pointRadius: 3.4, backgroundColor: 'rgba(255,120,120,0.65)', borderWidth: 0 },
            { showLine: true, data: pairsOf(redAreaX, redAreaY), borderColor: '#ff8585', backgroundColor: '#ff8585', fill: { value: 1 }, pointRadius: 0, borderWidth: 1 },
            { data: toPoints(greyDots), pointRadius: 1.4, backgroundColor: '#c4c4c4', borderWidth: 0 },
            { showLine: true, data: pairsOf(greyLeftX, greyLeftY), borderColor: '#bdbdbd', backgroundColor: '#bdbdbd', fill: { value: 1.3 }, pointRadius: 0, borderWidth: 1 },
            { showLine: true, data: pairsOf(greyRightX, greyRightY), borderColor: '#bdbdbd', backgroundColor: '#bdbdbd', fill: { value: 1.3 }, pointRadius: 0, borderWidth: 1 }
        ]
    },
    options: {
        layout: { padding: { right: 12, top: 10 } },
        scales: {
            x: { min: -5.5, max: 5.55, afterBuildTicks: function (s) { s.ticks = [-5,-4,-3,-2,-1,0,1,2,3,4,5].map(function (v) { return { value: v }; }); }, afterFit: fit(18), grid: { drawOnChartArea: false, tickLength: 3, color: '#555' }, border: { display: false }, ticks: { font: { size: 10.5 }, color: '#4d4d4d', padding: 2, autoSkip: false, maxRotation: 0 } },
            y: { min: 0.43, max: 19.4, afterBuildTicks: function (s) { s.ticks = [5, 10, 15].map(function (v) { return { value: v }; }); }, afterFit: fit(32), grid: { drawOnChartArea: false, tickLength: 3, color: '#555' }, border: { display: false }, ticks: { font: { size: 10.5 }, color: '#4d4d4d', padding: 2 } }
        }
    },
    plugins: [frame('#555', 1.2), {
        id: 'names',
        afterDatasetsDraw: function (chart) {
            var ctx = chart.ctx;
            ctx.save();
            ctx.font = '11.5px "Liberation Sans"';
            ctx.fillStyle = '#e8508a';
            ctx.textAlign = 'center';
            ctx.textBaseline = 'middle';
            volcanoNames.forEach(function (n, i) {
                ctx.fillText(n, chart.scales.x.getPixelForValue(volcanoNameX[i]), chart.scales.y.getPixelForValue(volcanoNameY[i]));
            });
            ctx.restore();
        }
    }]
});
text('Freiburg-Siena cohort', 51, 56, 'font-size:15px;color:#222;', 'l');
text('Log<sub style="font-size:10px;line-height:0">2</sub> (fold change)', 140, 284, 'font-size:14.5px;color:#111;');
text('&minus;Log<sub style="font-size:10.5px;line-height:0">10</sub> <i>adj.Pvalue</i>', 18, 163, 'font-size:16px;color:#111;transform:translate(-50%,-50%) rotate(-90deg);');
text('Super DEGs', 250, 99, 'font-size:14px;color:#111;', 'l');
text('DEGs', 250, 189, 'font-size:14px;color:#111;', 'l');
text('Super-Up', 271, 123, 'font-size:10.5px;color:#111;', 'l');
text('Super-Down', 271, 139, 'font-size:10.5px;color:#111;', 'l');
text('Up', 271, 213, 'font-size:10.5px;color:#111;', 'l');
text('Down', 271, 229, 'font-size:10.5px;color:#111;', 'l');
[[257,123,'#ff6f6f'],[257,139,'#62ae8e'],[257,213,'#ffb4b4'],[257,229,'#c8eeb2']].forEach(function (p) {
    text('', p[0], p[1], 'background:' + p[2] + ';', 'dot');
});

// ---- B
var vennDatasets = [
    { data: [{ x: 461.7, y: 123.3, r: 86 }], backgroundColor: '#8080ff' },
    { data: [{ x: 573.3, y: 123.3, r: 85.5 }], backgroundColor: '#ffff80' },
    { data: [{ x: 517.3, y: 220, r: 86 }], backgroundColor: '#00ff80' }
];
var vennTextX = [442.7, 517.3, 592, 517.3, 470.7, 564, 517.3];
var vennTextY = [97, 97, 97, 147.7, 174, 174, 230.7];
makeChart(340, 0, 330, 340, {
    type: 'bubble',
    data: { datasets: vennDatasets.map(function (d) { return Object.assign({ borderWidth: 0, clip: false }, d); }) },
    options: {
        scales: {
            x: { display: false, min: 340, max: 670 },
            y: { display: false, min: 0, max: 340, reverse: true }
        }
    },
    plugins: [{
        id: 'overlaps',
        afterDatasetsDraw: function (chart) {
            var ctx = chart.ctx;
            var circles = [0, 1, 2].map(function (i) {
                var e = chart.getDatasetMeta(i).data[0];
                return { x: e.x, y: e.y, r: e.options.radius };
            });
            function clipped(list, color) {
                ctx.save();
                list.forEach(function (i) {
                    ctx.beginPath();
                    ctx.arc(circles[i].x, circles[i].y, circles[i].r, 0, Math.PI * 2);
                    ctx.clip();
                });
                ctx.fillStyle = color;
                ctx.fillRect(0, 0, 330, 340);
                ctx.restore();
            }
            clipped([0, 1], '#c0c080');
            clipped([0, 2], '#00c080');
            clipped([1, 2], '#00ff00');
            clipped([0, 1, 2], '#00d820');
            ctx.save();
            ctx.strokeStyle = '#111';
            ctx.lineWidth = 1;
            circles.forEach(function (c) {
                ctx.beginPath();
                ctx.arc(c.x, c.y, c.r, 0, Math.PI * 2);
                ctx.stroke();
            });
            ctx.fillStyle = '#111';
            ctx.textAlign = 'center';
            ctx.textBaseline = 'middle';
            vennCounts.forEach(function (n, i) {
                var x = chart.scales.x.getPixelForValue(vennTextX[i]);
                var y = chart.scales.y.getPixelForValue(vennTextY[i]);
                ctx.font = 'bold 14px "DejaVu Sans"';
                ctx.fillText(n, x, y);
                ctx.font = 'bold 10.5px "DejaVu Sans"';
                ctx.fillText(vennShares[i], x, y + 13);
            });
            ctx.restore();
        }
    }]
});
text('Freiburg-Siena DEGs', 438, 14, 'font-weight:bold;font-size:13.6px;color:#222;');
text('Freiburg-Siena PRGs', 596, 14, 'font-weight:bold;font-size:13.6px;color:#222;');
text('Leuven PRGs', 521.7, 321.7, 'font-weight:bold;font-size:13.6px;color:#222;');

// ---- C
function pathSets(list, color) {
    return list.map(function (p) {
        return { data: toPoints(p), showLine: true, borderColor: color, borderWidth: 1.2, pointRadius: 0, cubicInterpolationMode: 'monotone' };
    });
}
makeChart(680, 30, 247, 250, {
    type: 'scatter',
    data: {
        datasets: [].concat(
            pathSets([pathEnd], '#ff55dd'), pathSets(pathCyan, '#12dff0'), pathSets(pathMagenta, '#ff55dd'),
            pathSets(pathBlue, '#45b4ee'), pathSets(pathGreen, '#66e08a'), pathSets(pathPink, '#ff8f98'),
            pathSets(pathBlack, '#444')
        )
    },
    options: {
        layout: { padding: { right: 1 } },
        scales: {
            x: { type: 'linear', position: 'bottom', min: -2.78, max: -0.62, afterBuildTicks: function (s) { s.ticks = coefTopX.map(function (v) { return { value: v }; }); }, afterFit: fit(22), grid: { drawOnChartArea: false, tickLength: 4, color: '#444' }, border: { display: false }, ticks: { font: { size: 7.5 }, color: '#333', padding: 4, callback: function (v) { return v.toFixed(1); }, maxRotation: 0 } },
            top: { type: 'linear', position: 'top', min: -2.78, max: -0.62, afterBuildTicks: function (s) { s.ticks = coefTopX.map(function (v) { return { value: v }; }); }, afterFit: fit(33), grid: { drawOnChartArea: false, tickLength: 4, color: '#444' }, border: { display: false }, ticks: { font: { size: 7.5 }, color: '#333', padding: 5, maxRotation: 0, callback: function (v) { return coefTopLabels[coefTopX.indexOf(v)]; } } },
            y: { min: -0.176, max: 0.315, afterBuildTicks: function (s) { s.ticks = [-0.1, 0, 0.1, 0.2, 0.3].map(function (v) { return { value: v }; }); }, afterFit: fit(32), grid: { drawOnChartArea: false, tickLength: 4, color: '#444' }, border: { display: false }, ticks: { font: { size: 7.5 }, color: '#333', padding: 4, minRotation: 90, maxRotation: 90, callback: function (v) { return v.toFixed(1); } } }
        }
    },
    plugins: [frame('#444', 1)]
});
text('Log Lambda', 818.7, 289, 'font-size:7.5px;color:#222;');
text('Coefficients', 683, 160, 'font-size:7.5px;color:#222;transform:translate(-50%,-50%) rotate(-90deg);');

// ---- D
var errorSegments = [];
cvLambda.forEach(function (l, i) {
    var cap = 0.012;
    errorSegments.push({ x: l, y: cvLower[i] }, { x: l, y: cvUpper[i] }, { x: l, y: null });
    errorSegments.push({ x: l - cap, y: cvUpper[i] }, { x: l + cap, y: cvUpper[i] }, { x: l, y: null });
    errorSegments.push({ x: l - cap, y: cvLower[i] }, { x: l + cap, y: cvLower[i] }, { x: l, y: null });
});
makeChart(0, 345, 250, 260, {
    type: 'scatter',
    data: {
        datasets: [
            { data: pairsOf(cvLambda, cvMean), pointRadius: 1.7, backgroundColor: '#ff1010', borderWidth: 0 },
            { data: [{ x: cvCutoffs[0], y: 8 }, { x: cvCutoffs[0], y: 9.6 }], showLine: true, borderColor: '#444', borderWidth: 1, borderDash: [2, 1.5], pointRadius: 0 },
            { data: [{ x: cvCutoffs[1], y: 8 }, { x: cvCutoffs[1], y: 9.6 }], showLine: true, borderColor: '#444', borderWidth: 1, borderDash: [2, 1.5], pointRadius: 0 },
            { data: errorSegments, showLine: true, spanGaps: false, borderColor: '#d6d6d6', borderWidth: 1, pointRadius: 0 }
        ]
    },
    options: {
        layout: { padding: { right: 3, top: 34 } },
        scales: {
            x: { min: -2.787, max: -0.626, afterBuildTicks: function (s) { s.ticks = [-2.5, -2, -1.5, -1].map(function (v) { return { value: v }; }); }, afterFit: fit(29), grid: { drawOnChartArea: false, tickLength: 4, color: '#444' }, border: { display: false }, ticks: { font: { size: 7.5 }, color: '#333', padding: 5, maxRotation: 0, callback: function (v) { return v.toFixed(1); } } },
            y: { min: 8, max: 9.532, afterBuildTicks: function (s) { s.ticks = [8, 8.2, 8.4, 8.6, 8.8, 9, 9.2, 9.4].map(function (v) { return { value: v }; }); }, afterFit: fit(33), grid: { drawOnChartArea: false, tickLength: 4, color: '#444' }, border: { display: false }, ticks: { font: { size: 7 }, color: '#333', padding: 4, minRotation: 90, maxRotation: 90, callback: function (v) { return v.toFixed(1); } } }
        }
    },
    plugins: [frame('#777', 1), {
        id: 'topCounts',
        afterDatasetsDraw: function (chart) {
            var ctx = chart.ctx;
            ctx.save();
            ctx.font = '7.5px "Liberation Sans"';
            ctx.fillStyle = '#222';
            ctx.textAlign = 'center';
            ctx.textBaseline = 'middle';
            cvTopLabels.forEach(function (n, i) {
                ctx.fillText(n, chart.scales.x.getPixelForValue(cvTopX[i]), 21);
            });
            ctx.restore();
        }
    }]
});
text('Log(&lambda;)', 140, 604, 'font-size:7.5px;color:#222;');
text('Partial Likelihood Deviance', 5, 477, 'font-size:7px;color:#222;transform:translate(-50%,-50%) rotate(-90deg);');

// ---- E
makeChart(366, 380, 552, 220, {
    type: 'bar',
    data: {
        labels: sigGenes,
        datasets: [{ data: sigCoef, backgroundColor: sigColors, categoryPercentage: 1, barPercentage: 0.9 }]
    },
    options: {
        indexAxis: 'y',
        layout: { padding: { right: 3, top: 8 } },
        scales: {
            x: { min: -0.0063, max: 0.1333, afterBuildTicks: function (s) { s.ticks = [0, 0.05, 0.1].map(function (v) { return { value: v }; }); }, afterFit: fit(23), grid: { drawOnChartArea: false, tickLength: 3, color: '#333' }, border: { color: '#333', width: 1.2 }, ticks: { font: { size: 7.5 }, color: '#333', padding: 2, maxRotation: 0, callback: function (v) { return v.toFixed(2); } } },
            y: { afterFit: fit(49), grid: { drawOnChartArea: true, offset: false, tickLength: 3, color: '#ccc', lineWidth: 1 }, border: { color: '#333', width: 1.2, dash: [1.5, 2.5] }, ticks: { font: { size: 7.8 }, color: '#333', padding: 2 } }
        }
    },
    plugins: [{
        id: 'barValues',
        afterDatasetsDraw: function (chart) {
            var ctx = chart.ctx, a = chart.chartArea;
            ctx.save();
            ctx.strokeStyle = '#333';
            ctx.lineWidth = 1.2;
            ctx.beginPath();
            ctx.moveTo(a.left, a.top);
            ctx.lineTo(a.left, a.bottom);
            ctx.stroke();
            ctx.font = '9.6px "Liberation Sans"';
            ctx.fillStyle = '#111';
            ctx.textAlign = 'center';
            ctx.textBaseline = 'middle';
            chart.getDatasetMeta(0).data.forEach(function (bar, i) {
                ctx.fillText(sigCoef[i].toFixed(3), bar.x, bar.y - 2.5);
            });
            ctx.restore();
        }
    }]
});
text('Genes Coefficient of m7G Signature', 415, 374, 'font-weight:bold;font-size:10.5px;color:#111;', 'l');
text('Gene Name', 373, 481, 'font-size:8.5px;color:#222;transform:translate(-50%,-50%) rotate(-90deg);');
text('Coefficient', 665, 596, 'font-size:8.5px;color:#222;');

// ---- F
var heatStops = [[0,[0,0,255]],[2,[74,32,255]],[4,[125,86,251]],[5,[154,120,251]],[7,[196,176,251]],[8.5,[228,219,253]],[10,[255,255,255]],[12,[255,216,198]],[14,[255,169,138]],[16,[255,122,85]],[18,[255,74,40]],[20,[255,0,0]]];
function heatColor(v) {
    for (var i = 1; i < heatStops.length; i++) {
        if (v <= heatStops[i][0]) {
            var a = heatStops[i - 1], b = heatStops[i], t = (v - a[0]) / (b[0] - a[0]);
            return 'rgb(' + [0, 1, 2].map(function (k) { return Math.round(a[1][k] + (b[1][k] - a[1][k]) * t); }).join(',') + ')';
        }
    }
    return 'rgb(255,0,0)';
}
var gapCell = 4; // 12 degrees between the two sectors, cells are 3 degrees
var cellWidths = sector1Ids.map(function () { return 1; }).concat([gapCell], sector2Ids.map(function () { return 1; }), [gapCell]);
function ringSet(s1, s2) {
    var colors = s1.map(heatColor).concat(['rgba(0,0,0,0)'], s2.map(heatColor), ['rgba(0,0,0,0)']);
    return { data: cellWidths, backgroundColor: colors, borderColor: colors, borderWidth: 0.3 };
}
function drawTree(ctx, node, cells, cx, cy) {
    if (typeof node === 'number') {
        var el = cells[node];
        return { a: (el.startAngle + el.endAngle) / 2, r: 176 };
    }
    var r = 176 - node[0];
    var kids = node.slice(1).map(function (k) { return drawTree(ctx, k, cells, cx, cy); });
    var a1 = kids[0].a, a2 = kids[kids.length - 1].a;
    ctx.beginPath();
    ctx.arc(cx, cy, r, a1, a2);
    ctx.stroke();
    kids.forEach(function (k) {
        ctx.beginPath();
        ctx.moveTo(cx + r * Math.cos(k.a), cy + r * Math.sin(k.a));
        ctx.lineTo(cx + k.r * Math.cos(k.a), cy + k.r * Math.sin(k.a));
        ctx.stroke();
    });
    return { a: (a1 + a2) / 2, r: r };
}
makeChart(0, 640, 614, 620, {
    type: 'doughnut',
    data: {
        labels: sector1Ids.concat([''], sector2Ids, ['']),
        datasets: [
            ringSet(tpst1S1, tpst1S2), ringSet(tm4sf1S1, tm4sf1S2), ringSet(mrvi1S1, mrvi1S2),
            ringSet(hs3st1S1, hs3st1S2), ringSet(ccl7S1, ccl7S2), ringSet(ccl2S1, ccl2S2)
        ]
    },
    options: { rotation: 228, radius: 243, cutout: '74.5%' },
    plugins: [{
        id: 'circos',
        afterDatasetsDraw: function (chart) {
            var ctx = chart.ctx;
            var cells = chart.getDatasetMeta(0).data;
            var cx = cells[0].x, cy = cells[0].y;
            var outer = cells[0].outerRadius;
            ctx.save();
            // sample names
            ctx.font = '9px "Liberation Sans"';
            ctx.fillStyle = '#222';
            ctx.textBaseline = 'middle';
            cells.forEach(function (el, i) {
                var id = chart.data.labels[i];
                if (id === '') return;
                var a = (el.startAngle + el.endAngle) / 2;
                ctx.save();
                ctx.translate(cx + (outer + 4) * Math.cos(a), cy + (outer + 4) * Math.sin(a));
                if (Math.cos(a) >= 0) {
                    ctx.rotate(a);
                    ctx.textAlign = 'left';
                } else {
                    ctx.rotate(a + Math.PI);
                    ctx.textAlign = 'right';
                }
                ctx.fillText('GSM1820' + id, 0, 0);
                ctx.restore();
            });
            // gene names in the gap after the first sector
            var last = cells[sector1Ids.length - 1];
            ctx.textAlign = 'left';
            heatGenes.forEach(function (g, i) {
                var ring = chart.getDatasetMeta(i).data[sector1Ids.length - 1];
                var r = (ring.outerRadius + ring.innerRadius) / 2;
                var a = last.endAngle + 0.015;
                ctx.save();
                ctx.translate(cx + r * Math.cos(a), cy + r * Math.sin(a));
                ctx.rotate(a + Math.PI / 2);
                ctx.fillText(g, 0, 0);
                ctx.restore();
            });
            // dendrograms
            ctx.strokeStyle = '#111';
            ctx.lineWidth = 1;
            var cells2 = cells.slice(sector1Ids.length + 1);
            drawTree(ctx, treeS1, cells, cx, cy);
            drawTree(ctx, treeS2, cells2, cx, cy);
            // colour legend, canvas top is at 640
            var barTop = 913 - 640, barBottom = 1008 - 640;
            var grad = ctx.createLinearGradient(0, 1004 - 640, 0, 916 - 640);
            heatStops.forEach(function (s) {
                grad.addColorStop(s[0] / 20, 'rgb(' + s[1].join(',') + ')');
            });
            ctx.fillStyle = grad;
            ctx.fillRect(267, barTop, 19, barBottom - barTop);
            ctx.font = 'bold 15px "Liberation Sans"';
            ctx.fillStyle = '#111';
            ctx.fillText('Expression', 267, 900 - 640);
            ctx.font = '14.5px "Liberation Sans"';
            ctx.strokeStyle = '#fff';
            legendValues.forEach(function (v) {
                var y = 1004 - 640 - v * 4.4;
                ctx.fillStyle = '#111';
                ctx.fillText(String(v), 290, y);
                ctx.beginPath();
                ctx.moveTo(267, y); ctx.lineTo(271, y);
                ctx.moveTo(282, y); ctx.lineTo(286, y);
                ctx.stroke();
            });
            ctx.restore();
        }
    }]
});

// ---- G
function pairsMatrix(originY, cols, ranges, tickList, tickLabels, corr, stars, histX, histY, density, loess) {
    var originX = 672.3, size = 38.9, margin = 26, spare = 9;
    var xs = [], ys = [];
    for (var i = 0; i <= 6; i++) {
        xs.push(Math.round(originX + size * i));
        ys.push(Math.round(originY + size * i));
    }
    var upperIndex = 0;
    for (var r = 0; r < 6; r++) {
        for (var c = 0; c < 6; c++) {
            var top = r === 0 && c % 2 === 1, bottom = r === 5 && c % 2 === 0;
            var left = c === 0 && r % 2 === 1, right = c === 5 && r % 2 === 0;
            // spare room so the labels on the end ticks are not cut off
            var padX = top || bottom ? spare : 0, padY = left || right ? spare : 0;
            var W = xs[c + 1] - xs[c] + (left ? margin : 0) + (right ? margin : 0) + 2 * padX;
            var H = ys[r + 1] - ys[r] + (top ? margin : 0) + (bottom ? margin : 0) + 2 * padY;
            var datasets = [], note = null;
            if (r === c) {
                datasets = [
                    { type: 'line', data: toPoints(density[c]), borderColor: '#ff1f3a', borderWidth: 1.1, pointRadius: 0, cubicInterpolationMode: 'monotone' },
                    { type: 'bar', data: pairsOf(histX[c], histY[c]), backgroundColor: '#cfcfcf', borderColor: '#333', borderWidth: 0.7, categoryPercentage: 1, barPercentage: 1 }
                ];
                note = { name: pairGenes[c] };
            } else if (r > c) {
                datasets = [
                    { type: 'line', data: toPoints(loess[r * (r - 1) / 2 + c]), borderColor: '#ff3a5e', borderWidth: 1, pointRadius: 0, cubicInterpolationMode: 'monotone' },
                    { type: 'scatter', data: pairsOf(cols[c], cols[r]), pointRadius: 2.2, backgroundColor: 'rgba(0,0,0,0)', borderColor: '#222', borderWidth: 0.7 }
                ];
            } else {
                note = { corr: corr[upperIndex], star: stars[upperIndex] };
                upperIndex++;
            }
            var xAxis = makeAxis(ranges[c], tickList[c], tickLabels[c], top, bottom, margin, 0);
            var yRange = r === c ? [0, 1.06] : ranges[r];
            var yAxis = makeAxis(yRange, r === c ? [] : tickList[r], r === c ? [] : tickLabels[r], left, right, margin, 90);
            xAxis.position = top ? 'top' : 'bottom';
            yAxis.position = right ? 'right' : 'left';
            makeChart(xs[c] - (left ? margin : 0) - padX, ys[r] - (top ? margin : 0) - padY, W, H, {
                type: 'bar',
                data: { datasets: datasets },
                options: {
                    layout: { padding: { left: padX, right: padX, top: padY, bottom: padY } },
                    scales: { x: Object.assign({ type: 'linear', offset: false }, xAxis), y: yAxis }
                },
                plugins: [frame('#333', 1), panelNote(note)]
            });
        }
    }
}
function makeAxis(range, ticks, labels, sideA, sideB, margin, rotation) {
    var show = sideA || sideB;
    return {
        min: range[0],
        max: range[1],
        display: show,
        afterBuildTicks: function (s) { s.ticks = ticks.map(function (v) { return { value: v }; }); },
        afterFit: show ? fit(margin) : undefined,
        grid: { drawOnChartArea: false, tickLength: 4, color: '#222' },
        border: { display: false },
        ticks: {
            font: { size: 8.5 }, color: '#222', padding: 4, autoSkip: false,
            minRotation: rotation, maxRotation: rotation,
            callback: function (v) { return labels.indexOf(v) >= 0 ? String(v) : ''; }
        }
    };
}
function panelNote(note) {
    return {
        id: 'panelNote',
        afterDraw: function (chart) {
            if (!note) return;
            var a = chart.chartArea, ctx = chart.ctx;
            var mid = (a.left + a.right) / 2;
            ctx.save();
            ctx.textAlign = 'center';
            ctx.textBaseline = 'middle';
            if (note.name) {
                ctx.font = '9px "Liberation Sans"';
                ctx.fillStyle = '#222';
                ctx.fillText(note.name, mid, a.top + 7);
            } else {
                ctx.font = (4 + 12 * parseFloat(note.corr)) + 'px "Liberation Sans"';
                ctx.fillStyle = '#111';
                ctx.fillText(note.corr, mid, a.top + 20);
                ctx.font = '14.4px "Liberation Sans"';
                ctx.fillStyle = '#ff4d6d';
                ctx.textAlign = 'right';
                ctx.fillText(note.star, a.right, a.top + 9);
            }
            ctx.restore();
        }
    };
}
pairsMatrix(661.3, [upCCL2, upCCL7, upHS3ST1, upMRVI1, upTM4SF1, upTPST1], upRanges, upTicks, upTickLabels, upCorr, upStars, upHistX, upHistY, upDensity, upLoess);
pairsMatrix(982.3, [lowCCL2, lowCCL7, lowHS3ST1, lowMRVI1, lowTM4SF1, lowTPST1], lowRanges, lowTicks, lowTickLabels, lowCorr, lowStars, lowHistX, lowHistY, lowDensity, lowLoess);
</script>
</body>
</html>
